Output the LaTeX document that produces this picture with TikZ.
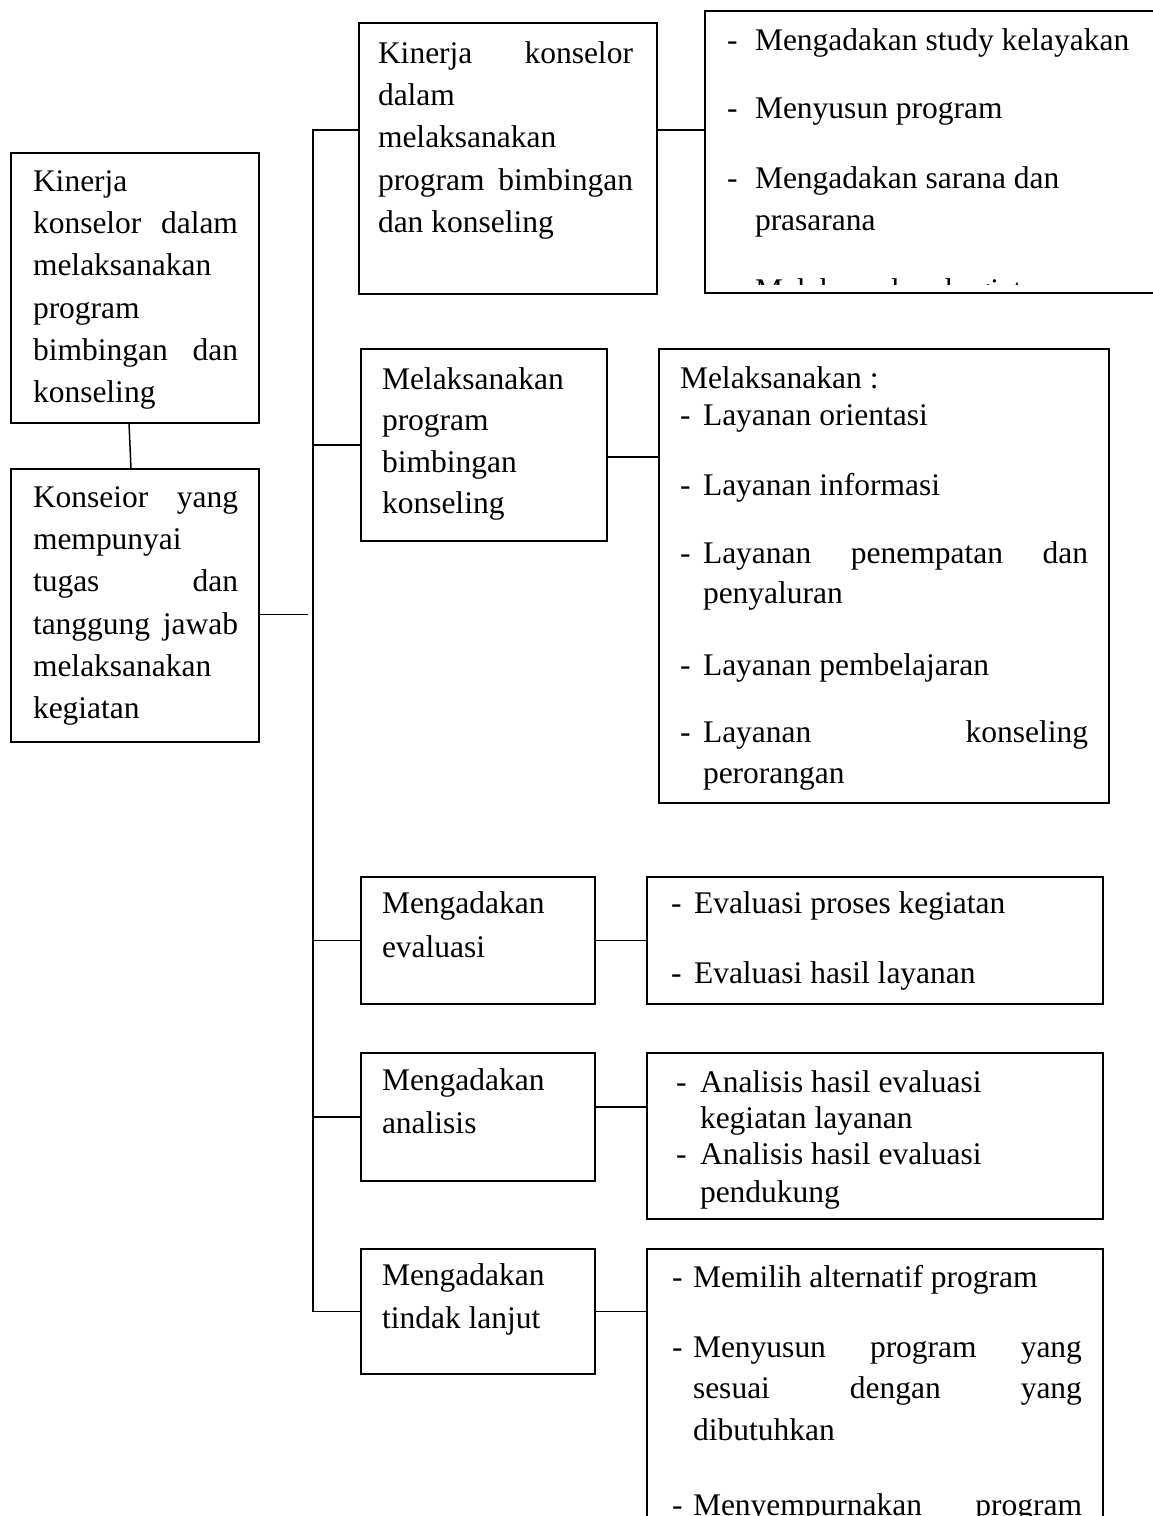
\documentclass[tikz,border=0pt]{standalone}
\usepackage{fontspec}
\setmainfont{Liberation Serif}
\newcommand\tline[4]{\node[txt] (#1) at (#2,#3) {#4};}
\newcommand\jline[5]{\node[txt] (#1) at (#2,#3) {\makebox[#4pt][s]{#5}};}
\tikzset{
  box/.style={draw, line width=1.5pt, inner sep=0pt, outer sep=0pt, anchor=north west},
  txt/.style={inner sep=0pt, outer sep=0pt, anchor=base west, font=\fontsize{31.5}{42}\selectfont},
  conn/.style={line width=1.5pt},
}
\begin{document}
\begin{tikzpicture}[x=1pt,y=-1pt]
\useasboundingbox (0,0) rectangle (1152,1516);
\fill[white] (0,0) rectangle (1152,1516);

% boxes
\node[box, minimum width=248pt, minimum height=270pt] (L1) at (11,153) {};
\node[box, minimum width=248pt, minimum height=273pt] (L2) at (11,469) {};
\node[box, minimum width=298pt, minimum height=271pt] (B1) at (359,23) {};
\node[box, minimum width=460pt, minimum height=282pt] (R1) at (705,11) {};
\node[box, minimum width=246pt, minimum height=192pt] (B2) at (361,349) {};
\node[box, minimum width=450pt, minimum height=454pt] (R2) at (659,349) {};
\node[box, minimum width=234pt, minimum height=127pt] (B3) at (361,877) {};
\node[box, minimum width=456pt, minimum height=127pt] (R3) at (647,877) {};
\node[box, minimum width=234pt, minimum height=128pt] (B4) at (361,1053) {};
\node[box, minimum width=456pt, minimum height=166pt] (R4) at (647,1053) {};
\node[box, minimum width=234pt, minimum height=125pt] (B5) at (361,1249) {};
\node[box, minimum width=456pt, minimum height=300pt] (R5) at (647,1249) {};

% connectors
\coordinate (sTop) at (313,130);
\draw[conn] ([xshift=-6pt]L1.south) -- ([xshift=-4pt]L2.north);
\draw[conn] ([yshift=-9pt]L2.east) -- ++(49,0);
\draw[conn] (sTop -| B1.west) -- (sTop) -- (sTop |- B5.west) -- (B5.west);
\draw[conn] (B2.west) -- (B2.west -| sTop);
\draw[conn] (B3.west) -- (B3.west -| sTop);
\draw[conn] (B4.west) -- (B4.west -| sTop);
\draw[conn] (sTop -| B1.east) -- (sTop -| R1.west);
\draw[conn] ([yshift=-12pt]B2.east) coordinate (c2) -- (c2 -| R2.west);
\draw[conn] (B3.east) -- (B3.east -| R3.west);
\draw[conn] ([yshift=10pt]B4.east) coordinate (c4) -- (c4 -| R4.west);
\draw[conn] (B5.east) -- (B5.east -| R5.west);

% left top box
\tline{la}{33}{191}{Kinerja}
\jline{lb}{33}{233}{205}{konselor dalam}
\tline{lc}{33}{275}{melaksanakan}
\tline{ld}{33}{318}{program}
\jline{le}{33}{360}{205}{bimbingan dan}
\tline{lf}{33}{402}{konseling}

% left bottom box
\jline{ma}{33}{507}{205}{Konseior yang}
\tline{mb}{33}{549}{mempunyai}
\jline{mc}{33}{591}{205}{tugas dan}
\jline{md}{33}{634}{205}{tanggung jawab}
\tline{me}{33}{676}{melaksanakan}
\tline{mf}{33}{718}{kegiatan}

% B1
\jline{ba}{378}{63}{255}{Kinerja konselor}
\tline{bb}{378}{105}{dalam}
\tline{bc}{378}{147}{melaksanakan}
\jline{bd}{378}{190}{255}{program bimbingan}
\tline{be}{378}{232}{dan konseling}

% R1 (text clipped inside the box)
\begin{scope}
\clip (R1.north west) rectangle ([yshift=9pt]R1.south east);
\tline{rda}{727}{50}{-}
\tline{ra}{755}{50}{Mengadakan study kelayakan}
\tline{rdb}{727}{118}{-}
\tline{rb}{755}{118}{Menyusun program}
\tline{rdc}{727}{188}{-}
\tline{rc}{755}{188}{Mengadakan sarana dan}
\tline{rc2}{755}{230}{prasarana}
\tline{rdd}{727}{300}{-}
\tline{rd}{755}{300}{Melaksanakan kegiatan}
\end{scope}

% B2
\tline{ca}{382}{389}{Melaksanakan}
\tline{cb}{382}{430}{program}
\tline{cc}{382}{472}{bimbingan}
\tline{cd}{382}{513}{konseling}

% R2
\tline{sa}{680}{388}{Melaksanakan :}
\tline{sda}{680}{425}{-}
\tline{sb}{703}{425}{Layanan orientasi}
\tline{sdb}{680}{495}{-}
\tline{sc}{703}{495}{Layanan informasi}
\tline{sdc}{680}{563}{-}
\jline{sd}{703}{563}{385}{Layanan penempatan dan}
\tline{se}{703}{603}{penyaluran}
\tline{sdd}{680}{675}{-}
\tline{sf}{703}{675}{Layanan pembelajaran}
\tline{sde}{680}{742}{-}
\jline{sg}{703}{742}{385}{Layanan konseling}
\tline{sh}{703}{783}{perorangan}

% B3 / R3
\tline{da}{382}{913}{Mengadakan}
\tline{db}{382}{957}{evaluasi}
\tline{tda}{671}{913}{-}
\tline{ta}{694}{913}{Evaluasi proses kegiatan}
\tline{tdb}{671}{983}{-}
\tline{tb}{694}{983}{Evaluasi hasil layanan}

% B4 / R4
\tline{ea}{382}{1090}{Mengadakan}
\tline{eb}{382}{1133}{analisis}
\tline{uda}{676}{1092}{-}
\tline{ua}{700}{1092}{Analisis hasil evaluasi}
\tline{ub}{700}{1128}{kegiatan layanan}
\tline{udb}{676}{1164}{-}
\tline{uc}{700}{1164}{Analisis hasil evaluasi}
\tline{ud}{700}{1202}{pendukung}

% B5 / R5
\tline{fa}{382}{1285}{Mengadakan}
\tline{fb}{382}{1328}{tindak lanjut}
\tline{vda}{672}{1287}{-}
\tline{va}{693}{1287}{Memilih alternatif program}
\tline{vdb}{672}{1357}{-}
\jline{vb}{693}{1357}{389}{Menyusun program yang}
\jline{vc}{693}{1398}{389}{sesuai dengan yang}
\tline{vd}{693}{1440}{dibutuhkan}
\tline{vdc}{672}{1515}{-}
\jline{ve}{693}{1515}{389}{Menyempurnakan program}
\end{tikzpicture}
\end{document}
